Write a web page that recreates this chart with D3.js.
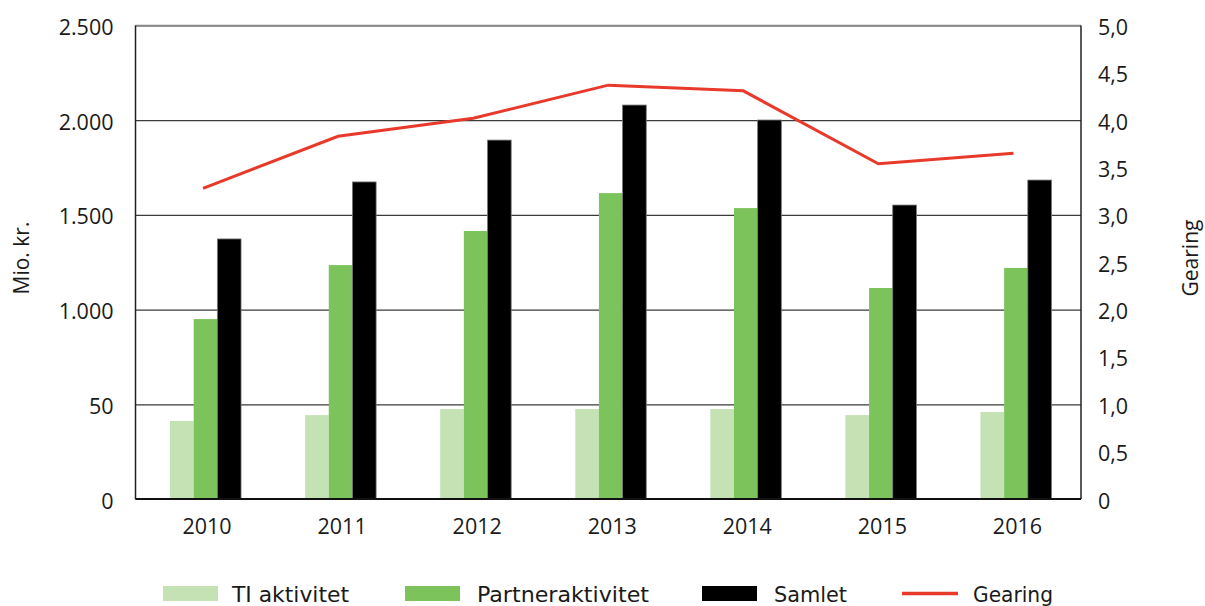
<!DOCTYPE html>
<html>
<head>
<meta charset="utf-8">
<script src="https://cdn.jsdelivr.net/npm/d3@7"></script>
<style>
  body { margin: 0; background: #fff; }
  .tick text { font-family: "Open Sans", sans-serif; font-size: 21.5px; fill: #1a1a1a; }
  .axis-title { font-family: "Open Sans", sans-serif; font-size: 21px; fill: #1a1a1a; }
  .legend text { font-family: "DejaVu Sans Condensed", "Liberation Sans Narrow", sans-serif; font-size: 22px; fill: #1a1a1a; }
</style>
</head>
<body>
<div id="chart"></div>
<script>
// data
let years = ["2010", "2011", "2012", "2013", "2014", "2015", "2016"];
let tiAktivitet = [412, 443, 475, 475, 475, 443, 459];
let partnerAktivitet = [950, 1235, 1415, 1615, 1536, 1114, 1220];
let samlet = [1373, 1674, 1895, 2080, 2001, 1552, 1684];
let gearing = [3.28, 3.83, 4.02, 4.37, 4.31, 3.54, 3.65];

let leftTicks = [0, 500, 1000, 1500, 2000, 2500];
let leftTickLabels = ["0", "50", "1.000", "1.500", "2.000", "2.500"];
let rightTicks = [0, 0.5, 1, 1.5, 2, 2.5, 3, 3.5, 4, 4.5, 5];
let rightTickLabels = ["0", "0,5", "1,0", "1,5", "2,0", "2,5", "3,0", "3,5", "4,0", "4,5", "5,0"];

let seriesNames = ["TI aktivitet", "Partneraktivitet", "Samlet", "Gearing"];
let seriesColors = ["#c5e2b5", "#7dc35b", "#000000", "#e8392b"];

let barSeries = [tiAktivitet, partnerAktivitet, samlet];

let margin = {top: 25.5, right: 124, bottom: 107, left: 135.5};
let width = 1205 - margin.left - margin.right;
let height = 606 - margin.top - margin.bottom;

let svg = d3.select("#chart").append("svg")
    .attr("width", 1205)
    .attr("height", 606)
    .append("g")
    .attr("transform", `translate(${margin.left}, ${margin.top})`);

let x = d3.scaleBand()
    .domain(years)
    .range([0, width]);

// bars inside a year sit a bit to the right of the band centre
let x1 = d3.scaleBand()
    .domain([0, 1, 2])
    .range([-33, 38]);

let y = d3.scaleLinear()
    .domain([0, 2500])
    .range([height, 0]);

let y2 = d3.scaleLinear()
    .domain([0, 5])
    .range([height, 0]);

// gridlines
svg.append("g")
    .attr("class", "grid")
    .call(d3.axisLeft(y).tickValues(leftTicks).tickSize(-width).tickFormat(""))
    .call(g => g.select(".domain").remove())
    .call(g => g.selectAll("line").attr("stroke", "#3a3a3a").attr("stroke-width", 1.2));

// left axis labels
svg.append("g")
    .attr("class", "y-axis axis")
    .call(d3.axisLeft(y).tickValues(leftTicks).tickSize(0).tickPadding(22)
        .tickFormat((d, i) => leftTickLabels[i]))
    .call(g => g.select(".domain").remove())
    .call(g => g.selectAll("text").attr("dy", "0.42em"));

// right axis labels
svg.append("g")
    .attr("class", "y2-axis axis")
    .attr("transform", `translate(${width}, 0)`)
    .call(d3.axisRight(y2).tickValues(rightTicks).tickSize(0).tickPadding(17)
        .tickFormat((d, i) => rightTickLabels[i]))
    .call(g => g.select(".domain").remove())
    .call(g => g.selectAll("text").attr("dy", "0.42em"));

// x axis labels
svg.append("g")
    .attr("class", "x-axis axis")
    .attr("transform", `translate(4, ${height})`)
    .call(d3.axisBottom(x).tickSize(0).tickPadding(20))
    .call(g => g.select(".domain").remove());

// bars
let groups = svg.selectAll(".year")
    .data(years)
    .join("g")
    .attr("class", "year")
    .attr("transform", d => `translate(${x(d) + x.bandwidth() / 2}, 0)`);

groups.selectAll("rect")
    .data((d, i) => barSeries.map((s, k) => ({k: k, value: s[i]})))
    .join("rect")
    .attr("x", d => x1(d.k))
    .attr("y", d => y(d.value))
    .attr("width", x1.bandwidth())
    .attr("height", d => height - y(d.value))
    .attr("fill", d => seriesColors[d.k])
    .attr("stroke", d => d.k === 2 ? "#777" : "none")
    .attr("stroke-width", 0.8);

// frame
svg.append("line").attr("x1", 0).attr("x2", width).attr("y1", 0).attr("y2", 0)
    .attr("stroke", "#888").attr("stroke-width", 1.5);
svg.append("line").attr("x1", 0).attr("x2", 0).attr("y1", 0).attr("y2", height)
    .attr("stroke", "#222").attr("stroke-width", 1.5);
svg.append("line").attr("x1", width).attr("x2", width).attr("y1", 0).attr("y2", height)
    .attr("stroke", "#222").attr("stroke-width", 1.5);
svg.append("line").attr("x1", 0).attr("x2", width).attr("y1", height).attr("y2", height)
    .attr("stroke", "#111").attr("stroke-width", 2);

// gearing line
let line = d3.line()
    .x((d, i) => x(years[i]) + x.bandwidth() / 2)
    .y(d => y2(d));

svg.append("path")
    .datum(gearing)
    .attr("fill", "none")
    .attr("stroke", seriesColors[3])
    .attr("stroke-width", 3)
    .attr("d", line);

// axis titles
svg.append("text")
    .attr("class", "axis-title")
    .attr("transform", `translate(${29 - margin.left}, ${258 - margin.top}) rotate(-90)`)
    .attr("text-anchor", "middle")
    .text("Mio. kr.");

svg.append("text")
    .attr("class", "axis-title")
    .attr("transform", `translate(${1198 - margin.left}, ${258 - margin.top}) rotate(-90)`)
    .attr("text-anchor", "middle")
    .text("Gearing");

// legend
let legendX = [163, 405, 702, 902];
let legendTextX = [69, 72, 72, 71];
let legendTextW = [117, 172, 73, 80];
let legend = d3.select("svg").append("g").attr("class", "legend");

seriesNames.forEach((name, i) => {
    let item = legend.append("g").attr("transform", `translate(${legendX[i]}, 586)`);
    if (i < 3) {
        item.append("rect").attr("width", 55).attr("height", 15).attr("fill", seriesColors[i]);
    } else {
        item.append("line").attr("x1", 0).attr("x2", 56).attr("y1", 7.5).attr("y2", 7.5)
            .attr("stroke", seriesColors[i]).attr("stroke-width", 3.5);
    }
    item.append("text")
        .attr("x", legendTextX[i])
        .attr("y", 16)
        .attr("textLength", legendTextW[i])
        .attr("lengthAdjust", "spacingAndGlyphs")
        .text(name);
});
</script>
</body>
</html>
